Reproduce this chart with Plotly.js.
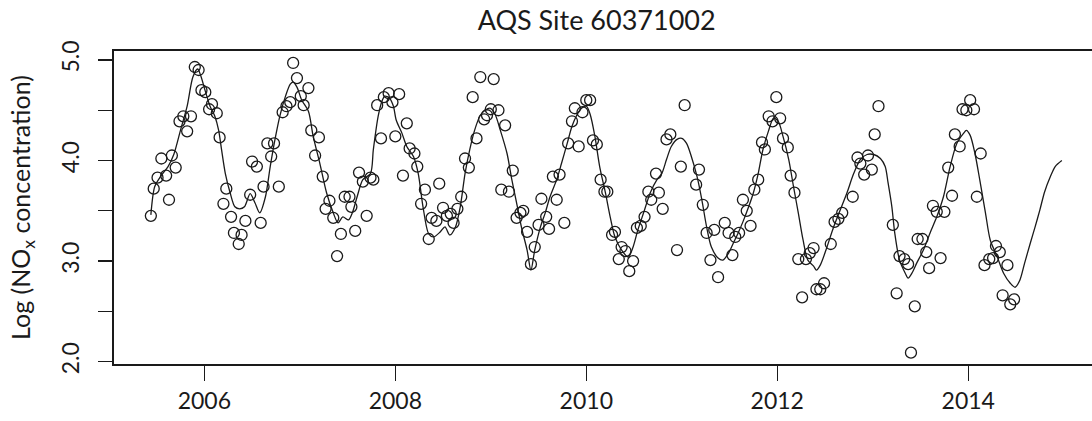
<!DOCTYPE html>
<html>
<head>
<meta charset="utf-8">
<script src="https://cdn.plot.ly/plotly-3.0.1.min.js"></script>
<style>
  html, body { margin: 0; padding: 0; background: #ffffff; overflow: hidden; width: 1092px; height: 421px; }
  #chart { width: 1101px; height: 421px; }
</style>
</head>
<body>
<div id="chart"></div>
<script>
// Observed measurements (year, log NOx)
const pointYear = [
  2005.44,2005.47,2005.51,2005.55,2005.60,2005.63,2005.66,2005.70,2005.74,2005.78,
  2005.82,2005.86,2005.90,2005.94,2005.97,2006.01,2006.05,2006.08,2006.13,2006.16,
  2006.20,2006.23,2006.28,2006.31,2006.36,2006.39,2006.43,2006.48,2006.50,2006.55,
  2006.59,2006.62,2006.66,2006.70,2006.73,2006.78,2006.82,2006.86,2006.90,2006.93,
  2006.97,2007.01,2007.04,2007.09,2007.12,2007.16,2007.20,2007.24,2007.27,2007.31,
  2007.35,2007.39,2007.43,2007.47,2007.52,2007.54,2007.58,2007.62,2007.66,2007.70,
  2007.74,2007.77,2007.81,2007.85,2007.88,2007.93,2007.97,2008.00,2008.04,2008.08,
  2008.12,2008.15,2008.20,2008.23,2008.27,2008.31,2008.35,2008.38,2008.43,2008.46,
  2008.50,2008.54,2008.58,2008.61,2008.65,2008.69,2008.73,2008.77,2008.81,2008.85,
  2008.89,2008.93,2008.96,2009.00,2009.03,2009.08,2009.11,2009.15,2009.19,2009.23,
  2009.27,2009.31,2009.34,2009.38,2009.42,2009.46,2009.50,2009.53,2009.58,2009.61,
  2009.65,2009.69,2009.72,2009.77,2009.81,2009.85,2009.88,2009.92,2009.96,2010.00,
  2010.04,2010.07,2010.11,2010.15,2010.19,2010.22,2010.27,2010.30,2010.34,2010.37,
  2010.41,2010.45,2010.49,2010.53,2010.57,2010.61,2010.65,2010.68,2010.73,2010.76,
  2010.80,2010.84,2010.88,2010.95,2010.99,2011.03,2011.15,2011.18,2011.22,2011.26,
  2011.30,2011.34,2011.38,2011.45,2011.49,2011.53,2011.56,2011.60,2011.64,2011.68,
  2011.72,2011.76,2011.80,2011.84,2011.87,2011.91,2011.95,2011.99,2012.03,2012.06,
  2012.11,2012.14,2012.18,2012.22,2012.26,2012.30,2012.34,2012.38,2012.41,2012.45,
  2012.49,2012.56,2012.60,2012.64,2012.68,2012.79,2012.84,2012.87,2012.91,2012.95,
  2012.99,2013.02,2013.06,2013.21,2013.25,2013.28,2013.33,2013.37,2013.40,2013.44,
  2013.47,2013.52,2013.56,2013.59,2013.63,2013.67,2013.71,2013.75,2013.79,2013.83,
  2013.86,2013.91,2013.94,2013.98,2014.02,2014.06,2014.09,2014.13,2014.17,2014.22,
  2014.26,2014.29,2014.33,2014.36,2014.41,2014.44,2014.48
];
const pointLogNOx = [
  3.45,3.72,3.83,4.02,3.85,3.61,4.05,3.93,4.39,4.44,
  4.29,4.44,4.93,4.90,4.70,4.68,4.51,4.56,4.47,4.23,
  3.57,3.72,3.44,3.28,3.17,3.26,3.40,3.66,3.99,3.94,
  3.38,3.74,4.17,4.04,4.17,3.74,4.48,4.54,4.58,4.97,
  4.82,4.64,4.55,4.72,4.30,4.05,4.23,3.84,3.52,3.60,
  3.43,3.05,3.27,3.64,3.64,3.54,3.30,3.88,3.79,3.45,
  3.83,3.81,4.55,4.22,4.63,4.67,4.58,4.24,4.66,3.85,
  4.37,4.12,4.07,3.94,3.57,3.71,3.22,3.43,3.40,3.77,
  3.53,3.45,3.47,3.38,3.52,3.64,4.02,3.93,4.63,4.22,
  4.83,4.41,4.45,4.51,4.81,4.50,3.71,4.35,3.69,3.90,
  3.43,3.48,3.50,3.29,2.97,3.14,3.36,3.62,3.44,3.32,
  3.84,3.61,3.86,3.38,4.17,4.39,4.52,4.14,4.48,4.60,
  4.60,4.20,4.16,3.81,3.69,3.69,3.26,3.29,3.02,3.14,
  3.10,2.90,3.00,3.33,3.35,3.44,3.69,3.61,3.87,3.68,
  3.52,4.21,4.26,3.11,3.94,4.55,3.76,3.91,3.56,3.28,
  3.01,3.31,2.84,3.38,3.28,3.06,3.24,3.28,3.61,3.50,
  3.35,3.71,3.81,4.18,4.11,4.44,4.39,4.63,4.42,4.22,
  4.13,3.85,3.68,3.02,2.64,3.02,3.08,3.13,2.72,2.72,
  2.78,3.17,3.39,3.42,3.48,3.64,4.03,3.97,3.86,4.05,
  3.91,4.26,4.54,3.36,2.68,3.05,3.02,2.97,2.09,2.55,
  3.22,3.22,3.09,2.93,3.55,3.49,3.03,3.49,3.93,3.65,
  4.26,4.14,4.51,4.50,4.60,4.51,3.64,4.07,2.96,3.02,
  3.03,3.15,3.09,2.66,2.96,2.57,2.62
];

// Fitted smooth curve
const smoothYear = [
  2005.44,2005.48,2005.54,2005.62,2005.68,2005.75,2005.82,2005.88,2005.93,2005.96,
  2006.01,2006.06,2006.11,2006.15,2006.18,2006.22,2006.27,2006.32,2006.37,2006.42,
  2006.48,2006.53,2006.58,2006.64,2006.69,2006.74,2006.79,2006.85,2006.90,2006.93,
  2006.97,2007.02,2007.09,2007.14,2007.21,2007.28,2007.35,2007.40,2007.45,2007.51,
  2007.55,2007.60,2007.66,2007.74,2007.77,2007.82,2007.86,2007.89,2007.94,2007.98,
  2008.01,2008.07,2008.12,2008.19,2008.24,2008.29,2008.35,2008.40,2008.47,2008.52,
  2008.57,2008.63,2008.68,2008.73,2008.78,2008.83,2008.89,2008.94,2008.99,2009.04,
  2009.10,2009.17,2009.22,2009.27,2009.32,2009.38,2009.42,2009.46,2009.52,2009.57,
  2009.62,2009.69,2009.74,2009.80,2009.85,2009.90,2009.95,2010.00,2010.04,2010.09,
  2010.14,2010.20,2010.25,2010.30,2010.37,2010.44,2010.49,2010.54,2010.60,2010.67,
  2010.74,2010.79,2010.84,2010.89,2010.95,2011.00,2011.05,2011.10,2011.16,2011.21,
  2011.26,2011.31,2011.38,2011.43,2011.49,2011.54,2011.59,2011.64,2011.70,2011.75,
  2011.80,2011.85,2011.91,2011.96,2012.01,2012.06,2012.12,2012.17,2012.22,2012.27,
  2012.32,2012.38,2012.41,2012.45,2012.51,2012.59,2012.66,2012.73,2012.80,2012.87,
  2012.94,2013.01,2013.08,2013.13,2013.16,2013.20,2013.23,2013.28,2013.34,2013.37,
  2013.41,2013.46,2013.53,2013.60,2013.67,2013.74,2013.81,2013.88,2013.95,2013.98,
  2014.02,2014.07,2014.12,2014.18,2014.23,2014.30,2014.37,2014.44,2014.49,2014.54,
  2014.59,2014.65,2014.70,2014.75,2014.80,2014.86,2014.91,2014.98
];
const smoothLogNOx = [
  3.46,3.74,3.84,3.94,4.06,4.30,4.54,4.83,4.91,4.85,
  4.69,4.54,4.44,4.30,4.11,3.87,3.68,3.54,3.52,3.54,
  3.67,3.58,3.48,3.64,3.94,4.21,4.44,4.64,4.76,4.78,
  4.73,4.60,4.49,4.24,3.97,3.68,3.48,3.38,3.44,3.41,
  3.48,3.64,3.81,3.87,4.11,4.44,4.59,4.64,4.62,4.54,
  4.40,4.27,4.14,4.04,3.87,3.54,3.27,3.24,3.29,3.34,
  3.26,3.34,3.54,3.87,4.11,4.30,4.45,4.50,4.52,4.47,
  4.30,4.07,3.81,3.58,3.34,3.11,2.91,3.11,3.34,3.48,
  3.64,3.81,3.97,4.17,4.34,4.45,4.52,4.54,4.46,4.24,
  3.94,3.68,3.44,3.24,3.11,3.04,3.14,3.31,3.48,3.68,
  3.81,3.87,4.01,4.14,4.21,4.22,4.17,4.04,3.84,3.61,
  3.34,3.14,3.03,3.01,3.08,3.18,3.28,3.39,3.54,3.68,
  3.87,4.11,4.30,4.42,4.39,4.24,4.01,3.74,3.48,3.21,
  3.01,2.95,2.91,2.96,3.11,3.34,3.51,3.68,3.87,4.01,
  4.06,4.06,4.02,3.94,3.78,3.54,3.28,3.01,2.88,2.83,
  2.88,2.98,3.11,3.28,3.44,3.64,3.94,4.17,4.27,4.30,
  4.25,4.07,3.81,3.48,3.21,3.05,2.88,2.78,2.74,2.81,
  2.98,3.18,3.34,3.51,3.69,3.84,3.94,4.00
];

const yearTicks = [2006, 2008, 2010, 2012, 2014];
const yearTickLabels = ['2006', '2008', '2010', '2012', '2014'];
const logTicks = [2.0, 3.0, 4.0, 5.0];
const logTickLabels = ['2.0', '3.0', '4.0', '5.0'];

const ink = '#1a1a1a';
const fontFamily = 'Lato, "Open Sans", sans-serif';

const traces = [
  {
    type: 'scatter', mode: 'markers',
    x: pointYear, y: pointLogNOx,
    marker: { symbol: 'circle-open', size: 11, color: ink, line: { width: 1.3, color: ink } },
    hoverinfo: 'skip', showlegend: false
  },
  {
    type: 'scatter', mode: 'lines',
    x: smoothYear, y: smoothLogNOx,
    line: { color: ink, width: 1.3, shape: 'spline', smoothing: 0.8 },
    hoverinfo: 'skip', showlegend: false
  }
];

const layout = {
  width: 1101, height: 421,
  margin: { l: 114, r: 0, t: 51, b: 57 },
  paper_bgcolor: '#ffffff', plot_bgcolor: '#ffffff',
  font: { family: fontFamily, color: ink, size: 23 },
  title: {
    text: 'AQS Site 60371002',
    font: { family: fontFamily, size: 27, color: ink },
    xref: 'paper', x: 0.489, xanchor: 'center',
    yref: 'container', y: 0.952, yanchor: 'middle'
  },
  xaxis: {
    range: [2005.054, 2015.39],
    tickmode: 'array', tickvals: yearTicks, ticktext: yearTickLabels,
    ticks: 'outside', ticklen: 15, tickwidth: 1.3, tickcolor: ink,
    tickfont: { size: 23, family: fontFamily, color: ink },
    showgrid: false, zeroline: false,
    showline: true, mirror: true, linecolor: ink, linewidth: 2
  },
  yaxis: {
    range: [1.977, 5.089],
    tickmode: 'array', tickvals: logTicks, ticktext: logTickLabels,
    tickangle: -90,
    ticks: 'outside', ticklen: 14, tickwidth: 1.3, tickcolor: ink,
    ticklabelstandoff: 10,
    minor: { dtick: 0.5, tick0: 0, ticks: 'outside', ticklen: 14, tickwidth: 1.3, tickcolor: ink, showgrid: false },
    tickfont: { size: 23, family: fontFamily, color: ink },
    showgrid: false, zeroline: false,
    showline: true, mirror: true, linecolor: ink, linewidth: 2,
    title: { text: 'Log (NO<sub>x</sub> concentration)', font: { size: 25, family: fontFamily, color: ink }, standoff: 18 }
  }
};

Plotly.newPlot('chart', traces, layout, { staticPlot: true, displayModeBar: false });
</script>
</body>
</html>
